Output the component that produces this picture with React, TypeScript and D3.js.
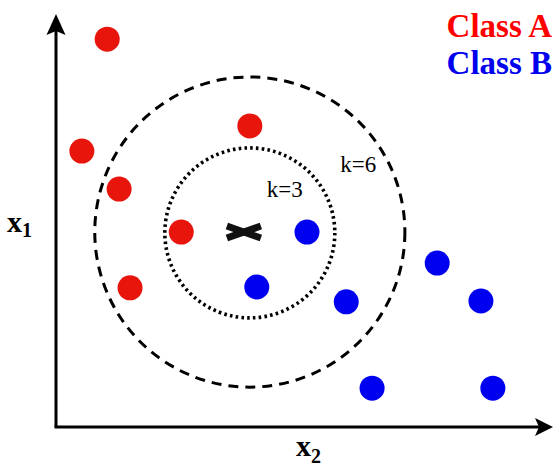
import React from "react";
import * as d3 from "d3";

const classA: [number, number][] = [
  [1.03, 9.39],
  [0.52, 6.68],
  [1.27, 5.76],
  [3.9, 7.29],
  [2.52, 4.72],
  [1.49, 3.37],
];
const classB: [number, number][] = [
  [5.05, 4.72],
  [4.04, 3.39],
  [5.84, 3.03],
  [7.67, 3.97],
  [8.55, 3.05],
  [6.36, 0.94],
  [8.79, 0.94],
];
const query: [number, number] = [3.78, 4.72];
const neighbourhoods = [
  { k: 6, cx: 3.9, cy: 4.72, r: 3.12, dash: "10,7", label: "k=6", lx: 5.72, ly: 6.17 },
  { k: 3, cx: 3.9, cy: 4.7, r: 1.71, dash: "2.6,3.2", label: "k=3", lx: 4.24, ly: 5.57 },
];
const legend = [
  { label: "Class A", color: "#ff0000" },
  { label: "Class B", color: "#0000ee" },
];

const W = 556;
const H = 469;

export default function App() {
  const x = d3.scaleLinear().domain([0, 10]).range([56, 553]);
  const y = d3.scaleLinear().domain([0, 10]).range([427, 14]);
  const px = (r: number) => x(r) - x(0);
  const x0 = x(0), y0 = y(0), xEnd = x(10), yEnd = y(10);
  const serif = "'Liberation Serif', 'Times New Roman', 'DejaVu Serif', serif";
  const qx = x(query[0]);
  const qy = y(query[1]);

  return (
    <svg width={W} height={H} style={{ position: "absolute", left: 0, top: 0, background: "#fff" }}>
      {/* axes */}
      <line x1={x0} y1={y0} x2={x0} y2={yEnd + 14} stroke="#000" strokeWidth={3} />
      <line x1={x0 - 1.5} y1={y0} x2={xEnd - 12} y2={y0} stroke="#000" strokeWidth={3} />
      <path
        d={`M${x0},${yEnd} L${x0 + 9.5},${yEnd + 21} L${x0},${yEnd + 17} L${x0 - 9.5},${yEnd + 21} Z`}
        fill="#000"
      />
      <path
        d={`M${xEnd},${y0} L${xEnd - 18},${y0 - 9} L${xEnd - 14},${y0} L${xEnd - 18},${y0 + 9} Z`}
        fill="#000"
      />

      {/* neighbourhood circles */}
      {neighbourhoods.map((n) => (
        <circle
          key={n.k}
          cx={x(n.cx)}
          cy={y(n.cy)}
          r={px(n.r)}
          fill="none"
          stroke="#000"
          strokeWidth={n.k === 3 ? 3.6 : 3}
          strokeDasharray={n.dash}
        />
      ))}
      {neighbourhoods.map((n) => (
        <text key={"l" + n.k} x={x(n.lx)} y={y(n.ly)} fontFamily={serif} fontSize={23} fill="#000">
          {n.label}
        </text>
      ))}

      {/* points */}
      {classA.map((d, i) => (
        <circle key={"a" + i} cx={x(d[0])} cy={y(d[1])} r={12.5} fill="#e8150d" />
      ))}
      {classB.map((d, i) => (
        <circle key={"b" + i} cx={x(d[0])} cy={y(d[1])} r={12.5} fill="#0000f0" />
      ))}

      {/* query marker */}
      <g transform={`translate(${qx},${qy})`} stroke="#111" strokeWidth={7}>
        <line x1={-17} y1={-6} x2={17} y2={6} />
        <line x1={-17} y1={6} x2={17} y2={-6} />
      </g>

      {/* legend */}
      {legend.map((l, i) => (
        <text
          key={l.label}
          x={552}
          y={37 + i * 37}
          textAnchor="end"
          fontFamily={serif}
          fontWeight="bold"
          fontSize={33}
          fill={l.color}
        >
          {l.label}
        </text>
      ))}

      {/* axis labels */}
      <text x={7} y={232} fontFamily={serif} fontWeight="bold" fontSize={30} fill="#000">
        x
        <tspan fontSize={20} dy={5}>1</tspan>
      </text>
      <text x={296} y={456} fontFamily={serif} fontWeight="bold" fontSize={30} fill="#000">
        x
        <tspan fontSize={20} dy={7}>2</tspan>
      </text>
    </svg>
  );
}
